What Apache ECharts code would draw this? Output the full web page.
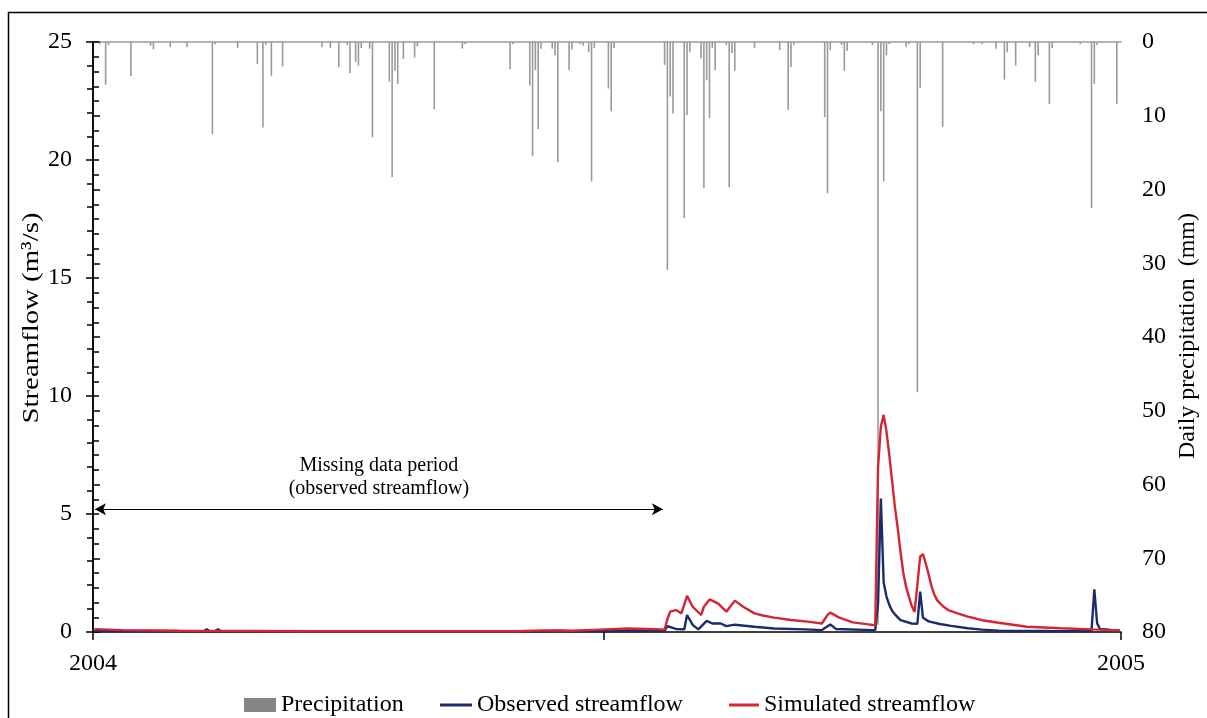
<!DOCTYPE html>
<html>
<head>
<meta charset="utf-8">
<script src="https://cdn.jsdelivr.net/npm/echarts@6/dist/echarts.min.js"></script>
<style>
  html, body { margin: 0; padding: 0; background: #fff; }
  #chart { width: 1207px; height: 718px; }
</style>
</head>
<body>
<div id="chart"></div>
<script>
// Daily series for 2004 (day 0 = 1 January, 366 days)
const yearTicks = ['2004', '2005'];

// Daily precipitation (mm), rain days only
const rainDay = [2,4,5,13,20,21,27,33,42,43,51,58,60,61,63,67,81,84,87,90,91,93,94,95,98,99,105,106,107,108,110,114,115,121,131,132,148,149,155,156,157,158,159,163,164,165,169,170,173,174,176,177,178,183,184,185,203,204,205,206,210,211,212,216,217,218,219,220,221,225,226,227,228,235,244,247,248,249,260,261,262,266,267,268,277,279,280,281,282,283,289,290,293,294,302,313,316,321,324,325,328,333,335,336,340,341,351,355,356,357,364];
const rainMm = [0.3,5.8,0.4,4.6,0.5,1.0,0.7,0.7,12.5,0.3,0.8,3.0,11.6,0.4,4.6,3.3,0.7,0.8,3.4,0.4,4.2,2.7,3.2,0.8,0.9,12.9,5.4,18.3,3.9,5.7,2.3,2.1,0.6,9.1,0.9,0.3,3.7,0.3,5.9,15.5,3.8,11.8,0.9,0.9,1.8,16.3,3.8,1.0,0.3,0.5,1.4,18.9,0.8,6.3,9.4,0.8,3.1,30.9,7.4,9.7,23.9,9.9,1.4,2.2,19.8,5.2,10.3,0.8,3.8,0.4,19.7,1.5,3.9,0.8,1.1,9.2,3.4,0.4,10.2,20.5,1.1,0.4,3.9,1.2,0.4,79,9.4,18.9,1.8,0.3,0.7,0.3,47.5,6.2,11.5,0.3,0.3,0.9,5.1,1.4,3.2,0.7,5.4,1.8,8.4,0.8,0.3,22.5,5.7,0.4,8.4];

// Observed streamflow (m3/s)
const obsDay = [0,15,38,39,40,41,43,44,45,100,160,165,170,203,204,207,210,211,213,215,218,220,223,225,228,235,242,253,259,262,264,277,278,279,280,281,282,283,284,285,287,291,293,294,295,297,301,305,311,316,322,340,354,355,356,357,358,362,365];
const obsFlow = [0.05,0.04,0.03,0.03,0.12,0.03,0.03,0.12,0.03,0.02,0.03,0.06,0.03,0.05,0.25,0.13,0.11,0.72,0.30,0.11,0.47,0.36,0.36,0.25,0.31,0.22,0.15,0.11,0.08,0.32,0.13,0.08,0.08,1.2,5.66,2.1,1.5,1.15,0.9,0.75,0.5,0.36,0.35,1.71,0.6,0.45,0.34,0.26,0.16,0.1,0.06,0.04,0.03,0.05,1.81,0.37,0.13,0.09,0.08];

// Simulated streamflow (m3/s)
const simDay = [0,10,30,80,150,160,170,180,190,200,203,204,205,207,209,211,213,216,217,219,222,225,228,231,235,238,242,248,254,259,261,262,265,270,277,278,279,280,281,282,283,284,285,286,287,288,289,290,291,292,293,294,295,296,297,298,299,300,302,304,307,311,316,322,332,344,355,365];
const simFlow = [0.12,0.08,0.05,0.03,0.03,0.07,0.05,0.10,0.15,0.12,0.10,0.55,0.86,0.93,0.79,1.53,1.07,0.72,1.07,1.38,1.21,0.86,1.33,1.07,0.79,0.70,0.61,0.51,0.44,0.36,0.72,0.82,0.62,0.41,0.30,0.28,7.0,8.7,9.2,8.5,7.5,6.4,5.3,4.4,3.4,2.5,1.9,1.5,1.1,0.85,2.0,3.2,3.3,2.9,2.45,1.95,1.6,1.35,1.1,0.93,0.8,0.65,0.5,0.39,0.22,0.16,0.11,0.07];

// Span of missing observations (day positions) and the height of its marker (m3/s)
const missingSpan = [0.7, 202.9];
const missingLevel = 5.2;

const SERIF = '"Liberation Serif", "Times New Roman", serif';
const atCentre = (days, vals) => days.map((d, i) => [d + 0.5, vals[i]]);
const legendText = { fontFamily: SERIF, fontSize: 24, color: '#000' };

const chart = echarts.init(document.getElementById('chart'), null, { renderer: 'canvas' });

chart.setOption({
  animation: false,
  backgroundColor: '#fff',
  grid: { left: 93, right: 86, top: 42, bottom: 86, containLabel: false },
  legend: [
    {
      left: 244, top: 693, padding: 0, itemWidth: 32, itemHeight: 14, textStyle: legendText,
      data: [{ name: 'Precipitation', icon: 'rect', itemStyle: { color: '#858585' } }]
    },
    {
      left: 440, top: 693, padding: 0, itemWidth: 32, itemHeight: 3, textStyle: legendText,
      data: [{ name: 'Observed streamflow', icon: 'rect' }]
    },
    {
      left: 729, top: 693, padding: 0, itemWidth: 30, itemHeight: 3, textStyle: legendText,
      data: [{ name: 'Simulated streamflow', icon: 'rect' }]
    }
  ],
  xAxis: [
    {
      type: 'value', min: 0, max: 366, interval: 183,
      axisLine: { show: true, lineStyle: { color: '#000', width: 1.5 } },
      axisTick: { show: true, length: 8, lineStyle: { color: '#000', width: 1.5 }, customValues: [0, 182, 366] },
      axisLabel: {
        customValues: [0, 366],
        formatter: v => (v === 0 ? yearTicks[0] : (v === 366 ? yearTicks[1] : '')),
        fontFamily: SERIF, fontSize: 24, color: '#000', margin: 20
      },
      splitLine: { show: false }
    },
    {
      type: 'value', min: 0, max: 366, position: 'top',
      axisLine: { show: true, lineStyle: { color: '#9a9a9a', width: 1.5 } },
      axisTick: { show: false }, axisLabel: { show: false }, splitLine: { show: false }
    }
  ],
  yAxis: [
    {
      type: 'value', min: 0, max: 25, interval: 5, position: 'left',
      axisLine: { show: true, lineStyle: { color: '#000', width: 1.5 } },
      axisTick: { show: true, length: 7, lineStyle: { color: '#000', width: 1.5 } },
      minorTick: { show: true, splitNumber: 5, length: 6, lineStyle: { color: '#000', width: 1.5 } },
      axisLabel: { fontFamily: SERIF, fontSize: 24, color: '#000', margin: 21 },
      splitLine: { show: false }
    },
    {
      type: 'value', min: 0, max: 80, interval: 10, position: 'right', inverse: true,
      axisLine: { show: true, lineStyle: { color: '#000', width: 1.5 } },
      axisTick: { show: true, length: 7, lineStyle: { color: '#000', width: 1.5 } },
      minorTick: { show: true, splitNumber: 5, length: 6, lineStyle: { color: '#000', width: 1.5 } },
      axisLabel: { fontFamily: SERIF, fontSize: 24, color: '#000', margin: 21 },
      splitLine: { show: false }
    }
  ],
  series: [
    {
      name: 'Precipitation', type: 'bar', xAxisIndex: 0, yAxisIndex: 1,
      barWidth: 1.6, itemStyle: { color: '#9a9a9a' },
      data: atCentre(rainDay, rainMm), silent: true
    },
    {
      name: 'Observed streamflow', type: 'line', xAxisIndex: 0, yAxisIndex: 0,
      showSymbol: false, symbol: 'none',
      lineStyle: { color: '#1d2b6e', width: 2.4 }, itemStyle: { color: '#1d2b6e' },
      data: atCentre(obsDay, obsFlow),
      markLine: {
        silent: true,
        symbol: ['arrow', 'arrow'],
        symbolSize: [9, 11],
        lineStyle: { color: '#000', width: 1, type: 'solid' },
        label: {
          show: true, position: 'middle', distance: 9,
          formatter: 'Missing data period\n(observed streamflow)',
          fontFamily: SERIF, fontSize: 20, lineHeight: 23, color: '#000'
        },
        data: [[{ coord: [missingSpan[0], missingLevel] }, { coord: [missingSpan[1], missingLevel] }]]
      }
    },
    {
      name: 'Simulated streamflow', type: 'line', xAxisIndex: 0, yAxisIndex: 0,
      showSymbol: false, symbol: 'none',
      lineStyle: { color: '#d42632', width: 2.4 }, itemStyle: { color: '#d42632' },
      data: atCentre(simDay, simFlow)
    }
  ],
  graphic: [
    {
      type: 'rect', silent: true, z: -1,
      shape: { x: 8.5, y: 12.5, width: 1300, height: 800 },
      style: { fill: 'none', stroke: '#000', lineWidth: 1.5 }
    },
    {
      type: 'text', silent: true, x: 32, y: 318, rotation: Math.PI / 2, scaleX: 1.2,
      style: { text: 'Streamflow (m³/s)', fontFamily: SERIF, fontSize: 24, fill: '#000', align: 'center', verticalAlign: 'middle' }
    },
    {
      type: 'text', silent: true, x: 1188, y: 336, rotation: Math.PI / 2,
      style: { text: 'Daily precipitation  (mm)', fontFamily: SERIF, fontSize: 24, fill: '#000', align: 'center', verticalAlign: 'middle' }
    }
  ]
});
</script>
</body>
</html>
